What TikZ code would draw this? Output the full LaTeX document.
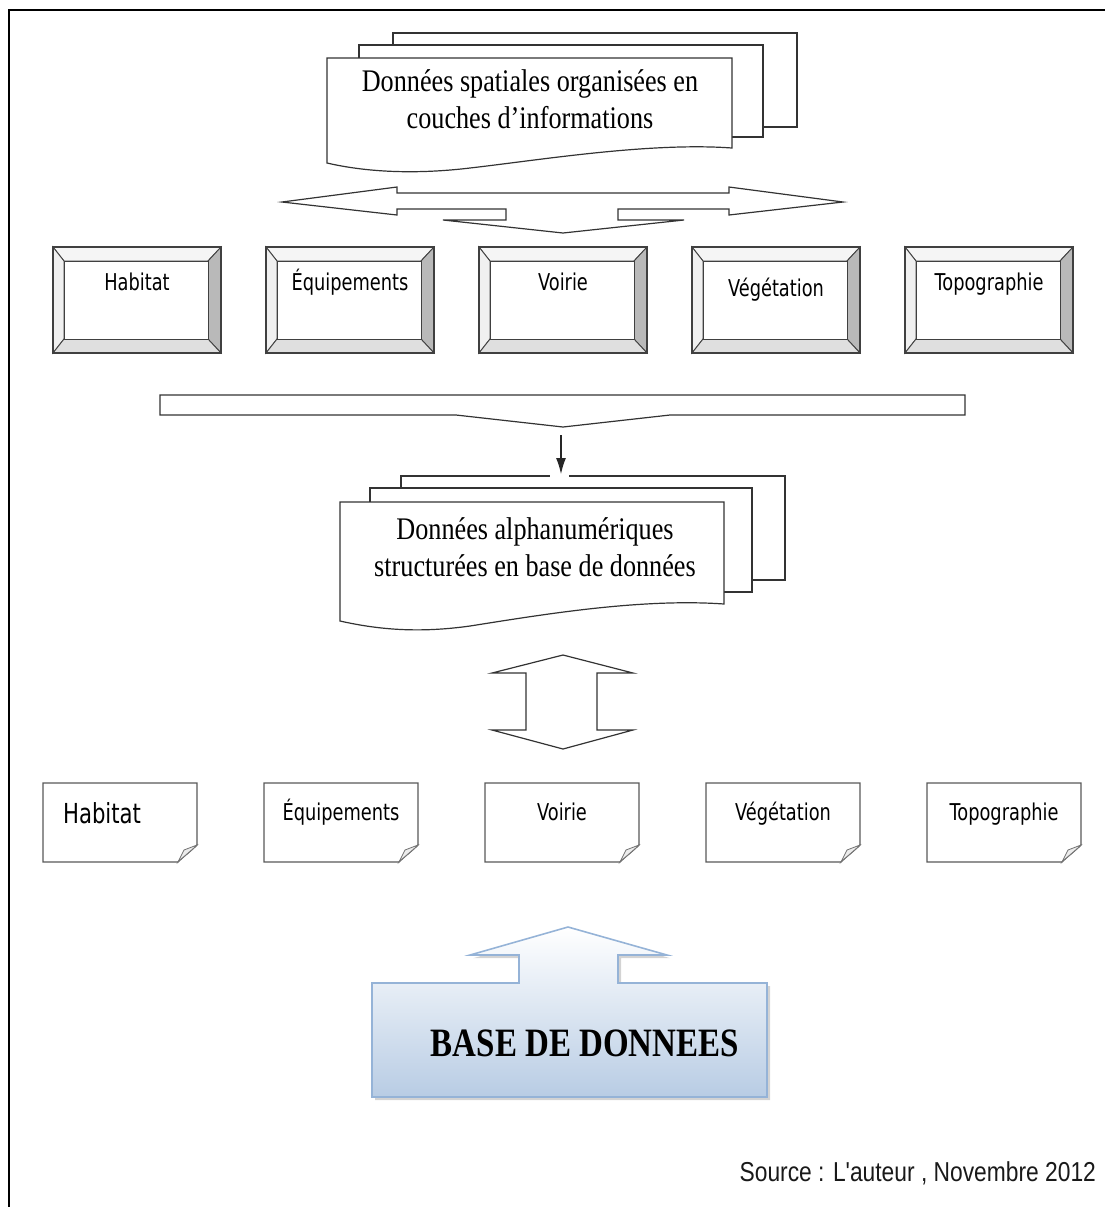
\documentclass[tikz,border=0pt]{standalone}
\usepackage{fontspec}
\setmainfont{Liberation Serif}
\newfontfamily\tahoma{DejaVu Sans}
\newfontfamily\arialfont{Liberation Sans}
\usetikzlibrary{arrows.meta,shadows}

\definecolor{dbblue}{RGB}{184,204,228}
\definecolor{dbedge}{RGB}{149,179,215}

\newcommand{\tall}[2][1.2]{\scalebox{1}[#1]{#2}}

\tikzset{
  sheet/.style={draw=black!80, line width=0.6pt, fill=white},
  blockarrow/.style={draw=black!80, line width=0.6pt, fill=white},
  bevelline/.style={draw=black!75, line width=0.45pt},
  page/.style={draw=black!65, line width=0.6pt, fill=white},
  stacktext/.style={align=center, font=\fontsize{13.1}{18.5}\selectfont},
  layertext/.style={anchor=base, font=\tahoma\fontsize{8.9}{10}\selectfont},
}

\begin{document}
\begin{tikzpicture}[x=0.5pt, y=-0.5pt, line join=miter]
  \useasboundingbox (0,0) rectangle (1105,1207);
  \draw[line width=1.1pt] (9,1240) -- (9,10) -- (1140,10);

  % spatial data, stacked sheets
  \draw[sheet] (393,33) rectangle (797,127);
  \draw[sheet] (359,45) rectangle (763,137);
  \draw[sheet] (327,58) -- (732,58) -- (732,148)
    .. controls (650,142) and (540,160) .. (470,168)
    .. controls (420,174) and (370,173) .. (327,163) -- cycle;
  \node[stacktext] (spatial) at (530,99)
    {\tall{Données spatiales organisées en}\\\tall{couches d’informations}};

  % left/right arrow with the notch going down
  \draw[blockarrow] (282,202) -- (397,187) -- (397,193) -- (729,193) -- (729,187)
    -- (843,202) -- (729,215) -- (729,209) -- (618,209) -- (618,220) -- (684,220)
    -- (563,233) -- (443,220) -- (506,220) -- (506,209) -- (397,209) -- (397,215) -- cycle;

  % layers as bevelled buttons
  \foreach \lab/\dy [count=\i from 0] in {Habitat/0,Équipements/0,Voirie/0,Végétation/6,Topographie/0} {
    \pgfmathsetmacro{\xl}{53+213*\i}
    \pgfmathsetmacro{\xr}{\xl+168}
    \filldraw[bevelline, fill=gray!8] (\xl,247) -- (\xr,247) -- (\xr-13,261) -- (\xl+11,261) -- cycle;
    \filldraw[bevelline, fill=gray!12] (\xl,247) -- (\xl+11,261) -- (\xl+11,339) -- (\xl,353) -- cycle;
    \filldraw[bevelline, fill=gray!55] (\xr,247) -- (\xr,353) -- (\xr-13,339) -- (\xr-13,261) -- cycle;
    \filldraw[bevelline, fill=gray!25] (\xl,353) -- (\xr,353) -- (\xr-13,339) -- (\xl+11,339) -- cycle;
    \draw[bevelline, fill=white] (\xl+11,261) rectangle (\xr-13,339);
    \draw[black!75, line width=0.8pt] (\xl,247) rectangle (\xr,353);
    \node[layertext] (layer\i) at (\xl+84,290+\dy) {\tall[1.3]{\lab}};
  }

  % collecting bar
  \draw[blockarrow] (160,395) -- (965,395) -- (965,415) -- (670,415) -- (563,427)
    -- (456,415) -- (160,415) -- cycle;
  \coordinate (bartip) at (561,435);
  \coordinate (stacktop) at (561,474);

  % alphanumeric data, stacked sheets
  \draw[sheet] (401,476) rectangle (785,580);
  \fill[white] (550,473) rectangle (569,479);
  \draw[sheet] (370,488) rectangle (752,592);
  \draw[sheet] (340,502) -- (724,502) -- (724,604)
    .. controls (640,598) and (540,615) .. (470,626)
    .. controls (420,633) and (380,630) .. (340,621) -- cycle;
  \node[stacktext] (alpha) at (535,547)
    {\tall{Données alphanumériques}\\\tall{structurées en base de données}};
  \draw[-{Latex[length=8pt,width=5pt]}, black!85, line width=0.6pt] (bartip) -- (stacktop);

  % up/down arrow
  \draw[blockarrow] (563,655) -- (633,673) -- (597,673) -- (597,730) -- (633,730)
    -- (563,749) -- (492,730) -- (526,730) -- (526,673) -- (492,673) -- cycle;

  % tables, one page each
  \foreach \lab [count=\i from 0] in {Habitat,Équipements,Voirie,Végétation,Topographie} {
    \pgfmathsetmacro{\xl}{43+221*\i}
    \pgfmathsetmacro{\xr}{\xl+154}
    \draw[page] (\xl,783) -- (\xr,783) -- (\xr,845)
      .. controls (\xr-6,851) and (\xr-14,857) .. (\xr-19,862) -- (\xl,862) -- cycle;
    \filldraw[draw=black!55, fill=gray!15, line width=0.4pt] (\xr,845) -- (\xr-13,850) -- (\xr-19,862)
      .. controls (\xr-14,857) and (\xr-6,851) .. cycle;
    \ifnum\i=0
      \node[anchor=base west, font=\tahoma\fontsize{10.6}{12}\selectfont] (table\i) at (\xl+13,823) {\tall[1.3]{\lab}};
    \else
      \node[layertext] (table\i) at (\xl+77,820) {\tall[1.3]{\lab}};
    \fi
  }

  % database
  \draw[draw=dbedge, line width=0.8pt, top color=white, bottom color=dbblue,
        drop shadow={shadow xshift=1.6pt, shadow yshift=-1.6pt, opacity=0.35}]
    (372,983) -- (519,983) -- (519,955) -- (470,955) -- (568,927) -- (667,955)
    -- (618,955) -- (618,983) -- (767,983) -- (767,1097) -- (372,1097) -- cycle;
  \node[font=\bfseries\fontsize{16.5}{18}\selectfont] (base) at (585,1043) {\tall[1.22]{BASE DE DONNEES}};

  \node[anchor=east, font=\arialfont\fontsize{11.4}{13}\selectfont, text=black!90] (source) at (1103,1173)
    {\tall{Source : L'auteur , Novembre 2012}};
\end{tikzpicture}
\end{document}
